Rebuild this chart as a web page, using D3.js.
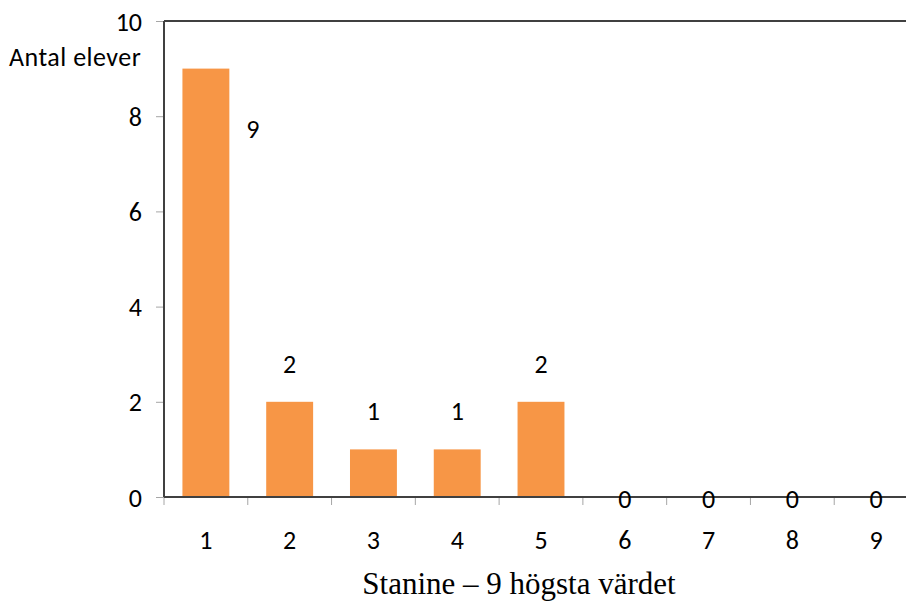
<!DOCTYPE html>
<html><head><meta charset="utf-8">
<script src="https://cdn.jsdelivr.net/npm/d3@7"></script>
<style>body{margin:0;background:#fff}svg{display:block}</style>
</head><body>
<script>
const categories = ["1","2","3","4","5","6","7","8","9"];
const values = [9,2,1,1,2,0,0,0,0];
const yTicks = [0,2,4,6,8,10];
const yTitle = "Antal elever";
const xTitle = "Stanine – 9 högsta värdet";

(function(){
const W = 906, H = 602;
const mLeft = 164, mRight = 918, mTop = 21, mBottom = 497;
const svg = d3.select("body").append("svg").attr("width", W).attr("height", H);
const x = d3.scaleBand().domain(categories).range([mLeft, mRight]).paddingInner(0.44).paddingOuter(0.22);
const xb = d3.scaleBand().domain(categories).range([mLeft, mRight]);
const y = d3.scaleLinear().domain([0, 10]).range([mBottom, mTop]);
const font = "Calibri, Carlito, 'Open Sans', sans-serif";
const fs = 26;

svg.selectAll("rect.bar").data(values).join("rect")
  .attr("x", (d,i) => x(categories[i])).attr("width", x.bandwidth())
  .attr("y", d => y(d)).attr("height", d => y(0) - y(d))
  .attr("fill", "#F79646");

const ya = svg.append("g").attr("transform", `translate(${mLeft},0)`)
  .call(d3.axisLeft(y).tickValues(yTicks).tickSize(8).tickPadding(14).tickFormat(d3.format("d")));
ya.select(".domain").remove();
ya.selectAll(".tick line").attr("stroke", "#a6a6a6");
ya.selectAll(".tick text").attr("font-family", font).attr("font-size", fs).attr("fill", "#000")
  .attr("dy", null).attr("dominant-baseline", "central");

const xa = svg.append("g").attr("transform", `translate(0,${mBottom})`)
  .call(d3.axisBottom(x).tickSize(0).tickPadding(0));
xa.select(".domain").remove();
xa.selectAll(".tick text").attr("font-family", font).attr("font-size", fs).attr("fill", "#000")
  .attr("dy", null).attr("y", 43).attr("dominant-baseline", "central");
svg.append("g").selectAll("line").data(categories).join("line")
  .attr("x1", d => xb(d)).attr("x2", d => xb(d))
  .attr("y1", mBottom).attr("y2", mBottom + 8).attr("stroke", "#a6a6a6");

svg.append("line").attr("x1", mLeft).attr("x2", W).attr("y1", y(10)).attr("y2", y(10))
  .attr("stroke", "#404040").attr("stroke-width", 2);
svg.append("line").attr("x1", mLeft).attr("x2", mLeft).attr("y1", y(10)).attr("y2", y(0))
  .attr("stroke", "#404040").attr("stroke-width", 2);
svg.append("line").attr("x1", mLeft).attr("x2", W).attr("y1", y(0)).attr("y2", y(0))
  .attr("stroke", "#404040").attr("stroke-width", 2);

svg.selectAll("text.lbl").data(values).join("text")
  .attr("font-family", font).attr("font-size", fs).attr("fill", "#000")
  .attr("text-anchor", "middle").attr("dominant-baseline", "central")
  .attr("x", (d,i) => x(categories[i]) + x.bandwidth()/2 + (i === 0 ? 47 : 0))
  .attr("y", (d,i) => i === 0 ? y(d) + 60 : (d === 0 ? y(0) + 2 : y(d) - 38))
  .text(d => d);

svg.append("text").attr("x", 9).attr("y", 57).attr("dominant-baseline", "central")
  .attr("font-family", font).attr("font-size", fs).attr("letter-spacing", 0.5).text(yTitle);
svg.append("text").attr("x", 519).attr("y", 594).attr("text-anchor", "middle")
  .attr("font-family", "'Liberation Serif', 'Times New Roman', serif").attr("font-size", 31).text(xTitle);
})();
</script>
</body></html>
